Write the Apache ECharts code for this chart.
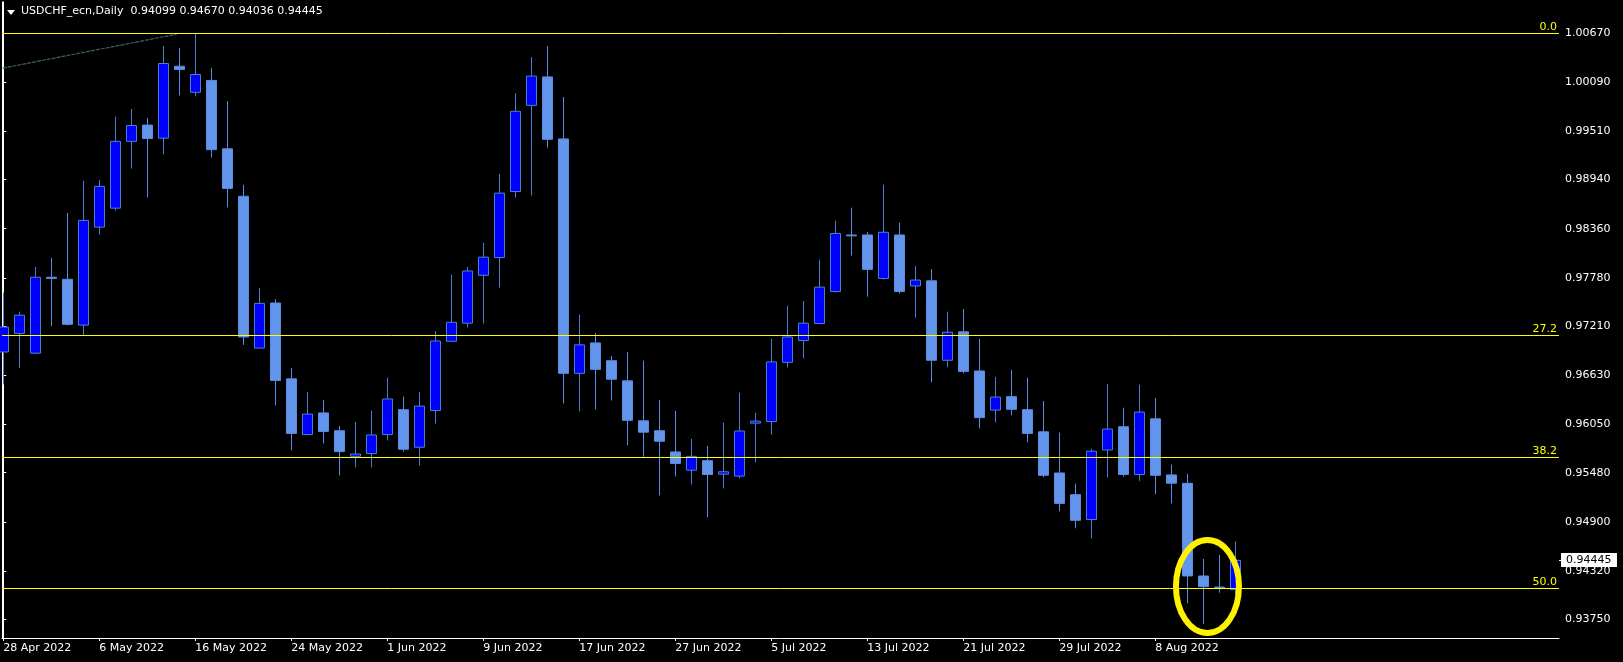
<!DOCTYPE html>
<html><head><meta charset="utf-8">
<script src="https://cdn.jsdelivr.net/npm/echarts@6/dist/echarts.min.js"></script>
<style>html,body{margin:0;padding:0;background:#000;}#c{width:1623px;height:662px;}</style>
</head><body><div id="c"></div>
<script>
const symbolName = 'USDCHF_ecn,Daily';
const dates = ['28 Apr 2022','29 Apr 2022','2 May 2022','3 May 2022','4 May 2022','5 May 2022','6 May 2022','9 May 2022','10 May 2022','11 May 2022','12 May 2022','13 May 2022','16 May 2022','17 May 2022','18 May 2022','19 May 2022','20 May 2022','23 May 2022','24 May 2022','25 May 2022','26 May 2022','27 May 2022','30 May 2022','31 May 2022','1 Jun 2022','2 Jun 2022','3 Jun 2022','6 Jun 2022','7 Jun 2022','8 Jun 2022','9 Jun 2022','10 Jun 2022','13 Jun 2022','14 Jun 2022','15 Jun 2022','16 Jun 2022','17 Jun 2022','20 Jun 2022','21 Jun 2022','22 Jun 2022','23 Jun 2022','24 Jun 2022','27 Jun 2022','28 Jun 2022','29 Jun 2022','30 Jun 2022','1 Jul 2022','4 Jul 2022','5 Jul 2022','6 Jul 2022','7 Jul 2022','8 Jul 2022','11 Jul 2022','12 Jul 2022','13 Jul 2022','14 Jul 2022','15 Jul 2022','18 Jul 2022','19 Jul 2022','20 Jul 2022','21 Jul 2022','22 Jul 2022','25 Jul 2022','26 Jul 2022','27 Jul 2022','28 Jul 2022','29 Jul 2022','1 Aug 2022','2 Aug 2022','3 Aug 2022','4 Aug 2022','5 Aug 2022','8 Aug 2022','9 Aug 2022','10 Aug 2022','11 Aug 2022','12 Aug 2022','15 Aug 2022'];
const open  = [0.96905,0.97124,0.96891,0.97787,0.97763,0.97222,0.98379,0.98603,0.99391,0.99583,0.99429,1.00278,0.99970,1.00110,0.99303,0.98743,0.96951,0.97483,0.96588,0.95930,0.96186,0.95976,0.95673,0.95706,0.95930,0.96224,0.95781,0.96214,0.97031,0.97245,0.97810,0.98020,0.98799,0.99816,1.00152,0.99420,0.96653,0.97012,0.96802,0.96564,0.96093,0.95976,0.95725,0.95510,0.95622,0.95463,0.95440,0.96065,0.96084,0.96783,0.97040,0.97241,0.97619,0.98286,0.98286,0.97773,0.98286,0.97684,0.97745,0.96807,0.97143,0.96681,0.96219,0.96378,0.96224,0.95963,0.95477,0.95221,0.94927,0.95748,0.96023,0.95459,0.96116,0.95454,0.95355,0.94261,0.94130,0.94099];
const high  = [0.97605,0.97381,0.97908,0.98015,0.98547,0.98925,0.98934,0.99681,0.99774,0.99667,1.00516,1.00492,1.00666,1.00259,0.99867,0.98878,0.97661,0.97530,0.96718,0.96434,0.96340,0.96032,0.96079,0.96210,0.96602,0.96378,0.96434,0.97152,0.97815,0.97908,0.98192,0.99009,0.99960,1.00385,1.00516,0.99914,0.97343,0.97129,0.96858,0.96905,0.96802,0.96340,0.96210,0.95879,0.95799,0.96070,0.96424,0.96186,0.97059,0.97451,0.97507,0.97992,0.98454,0.98608,0.98323,0.98878,0.98430,0.97922,0.97884,0.97381,0.97413,0.97059,0.96611,0.96695,0.96602,0.96326,0.95953,0.95351,0.95762,0.96527,0.96247,0.96518,0.96364,0.95575,0.95468,0.94462,0.94509,0.94670];
const low   = [0.96522,0.96718,0.96882,0.97208,0.97217,0.97105,0.98290,0.98575,0.99069,0.98729,0.99237,0.99932,0.99923,0.99200,0.98612,0.96989,0.96947,0.96275,0.95743,0.95925,0.95827,0.95449,0.95543,0.95543,0.95860,0.95729,0.95566,0.96060,0.97026,0.97194,0.97241,0.97665,0.98729,0.98752,0.99317,0.96298,0.96205,0.96228,0.96331,0.95804,0.95669,0.95211,0.95435,0.95342,0.94955,0.95295,0.95412,0.95603,0.95930,0.96723,0.96830,0.97238,0.97605,0.98043,0.97558,0.97759,0.97595,0.97311,0.96546,0.96723,0.96653,0.96004,0.96074,0.96158,0.95837,0.95426,0.95025,0.94824,0.94703,0.95426,0.95435,0.95384,0.95225,0.95118,0.93939,0.93695,0.94064,0.94036];
const close = [0.97199,0.97339,0.97787,0.97773,0.97231,0.98458,0.98859,0.99391,0.99578,0.99424,1.00310,1.00240,1.00180,0.99293,0.98836,0.97082,0.97479,0.96569,0.95944,0.96172,0.95967,0.95729,0.95701,0.95925,0.96350,0.95757,0.96266,0.97035,0.97255,0.97861,0.98024,0.98780,0.99746,1.00161,0.99415,0.96653,0.96989,0.96700,0.96583,0.96098,0.95958,0.95851,0.95589,0.95673,0.95459,0.95491,0.95972,0.96088,0.96788,0.97082,0.97245,0.97670,0.98304,0.98276,0.97880,0.98318,0.97619,0.97754,0.96807,0.97138,0.96676,0.96130,0.96373,0.96228,0.95944,0.95449,0.95118,0.94918,0.95734,0.95995,0.95459,0.96196,0.95449,0.95356,0.94261,0.94135,0.94126,0.94445];
const xTickIndex = [0,6,12,18,24,30,36,42,48,54,60,66,72];
const priceTicks = [1.00670,1.00090,0.99510,0.98940,0.98360,0.97780,0.97210,0.96630,0.96050,0.95480,0.94900,0.94320,0.93750];
const fibLevels = [1.00666,0.97103,0.95662,0.94116];
const fibLabels = ['0.0','27.2','38.2','50.0'];
const trendLine = [[-0.04,1.00255],[10.84,1.00656]];
const highlight = [[75.26,0.94137]];

const FONT = 'DejaVu Sans';
const last = open.length - 1;
const candles = open.map((o,i)=>[i,o,close[i],low[i],high[i]]);

const chart = echarts.init(document.getElementById('c'), null, {renderer:'canvas'});
chart.setOption({
  backgroundColor:'#000000',
  animation:false,
  grid:{left:2,right:64,top:2,bottom:24,containLabel:false},
  xAxis:{
    type:'value', min:-0.08, max:97.23,
    axisLine:{show:true,lineStyle:{color:'#ffffff',width:1}},
    splitLine:{show:false},
    axisTick:{show:true,length:3,lineStyle:{color:'#ffffff'},customValues:xTickIndex},
    axisLabel:{color:'#ffffff',fontFamily:FONT,fontSize:11,margin:5,align:'left',
      customValues:xTickIndex,formatter:v=>dates[Math.round(v)]}
  },
  yAxis:[{
    type:'value', position:'right', min:0.93529, max:1.01036, scale:true,
    axisLine:{show:true,lineStyle:{color:'#ffffff',width:1}},
    splitLine:{show:false},
    axisTick:{show:true,length:3,lineStyle:{color:'#ffffff'},customValues:priceTicks},
    axisLabel:{color:'#ffffff',fontFamily:FONT,fontSize:11,margin:6,
      customValues:priceTicks,formatter:v=>v.toFixed(5)}
  },{
    type:'value', position:'left', min:0.93529, max:1.01036, scale:true,
    axisLine:{show:true,lineStyle:{color:'#ffffff',width:1}},
    splitLine:{show:false},axisTick:{show:false},axisLabel:{show:false}
  }],
  graphic:[
    {type:'polygon',shape:{points:[[7,10],[15,10],[11,15]]},style:{fill:'#ffffff'},z:100},
    {type:'text',left:21,top:6,style:{text:symbolName+'  '+[open[last],high[last],low[last],close[last]].map(v=>v.toFixed(5)).join(' '),
      fill:'#ffffff',font:'11px "'+FONT+'"'},z:100}
  ],
  series:[
    {
      type:'line', data:[], clip:false, silent:true, z:1,
      markLine:{
        silent:true, symbol:['none','none'], animation:false, precision:5,
        data: fibLevels.map((v,i)=>({yAxis:v,
          lineStyle:{color:'#ffff00',width:1,type:'solid'},
          label:{show:true,position:'insideEndTop',formatter:fibLabels[i],color:'#ffff00',fontFamily:FONT,fontSize:11,distance:[2,1]}}))
      }
    },
    {
      type:'line', data:trendLine, symbol:'none', clip:true, silent:true, z:2,
      lineStyle:{color:'#3E625E',width:1.2,type:[4,1]}
    },
    {
      type:'candlestick', data:candles, dimensions:['idx','open','close','lowest','highest'],
      encode:{x:0,y:[1,2,3,4]}, barWidth:10, clip:true, z:3,
      itemStyle:{color:'#0000FF',color0:'#6495ED',borderColor:'#4A7FD0',borderColor0:'#5A8CE0',borderWidth:1}
    },
    {
      type:'custom', data:[[last, close[last]]], clip:false, silent:true, z:7,
      renderItem:(params,api)=>{
        const cs = params.coordSys;
        const y = Math.round(api.coord([api.value(0),api.value(1)])[1]);
        const xr = cs.x + cs.width;
        return {type:'group',children:[
          {type:'line',shape:{x1:xr,y1:y+0.5,x2:xr+3,y2:y+0.5},style:{stroke:'#ffffff',lineWidth:1}},
          {type:'rect',shape:{x:xr+2,y:y-7,width:56,height:14},style:{fill:'#ffffff'}},
          {type:'text',x:xr+7,y:y,style:{text:api.value(1).toFixed(5),fill:'#000000',
            font:'11px "'+FONT+'"',verticalAlign:'middle',align:'left'}}
        ]};
      }
    },
    {
      type:'custom', data:highlight, clip:false, silent:true, z:6,
      renderItem:(params,api)=>{
        const p = api.coord([api.value(0),api.value(1)]);
        return {type:'ellipse',shape:{cx:p[0],cy:p[1],rx:31.5,ry:46.5},
          style:{fill:'none',stroke:'#FFF200',lineWidth:6}};
      }
    }
  ]
});
</script></body></html>
